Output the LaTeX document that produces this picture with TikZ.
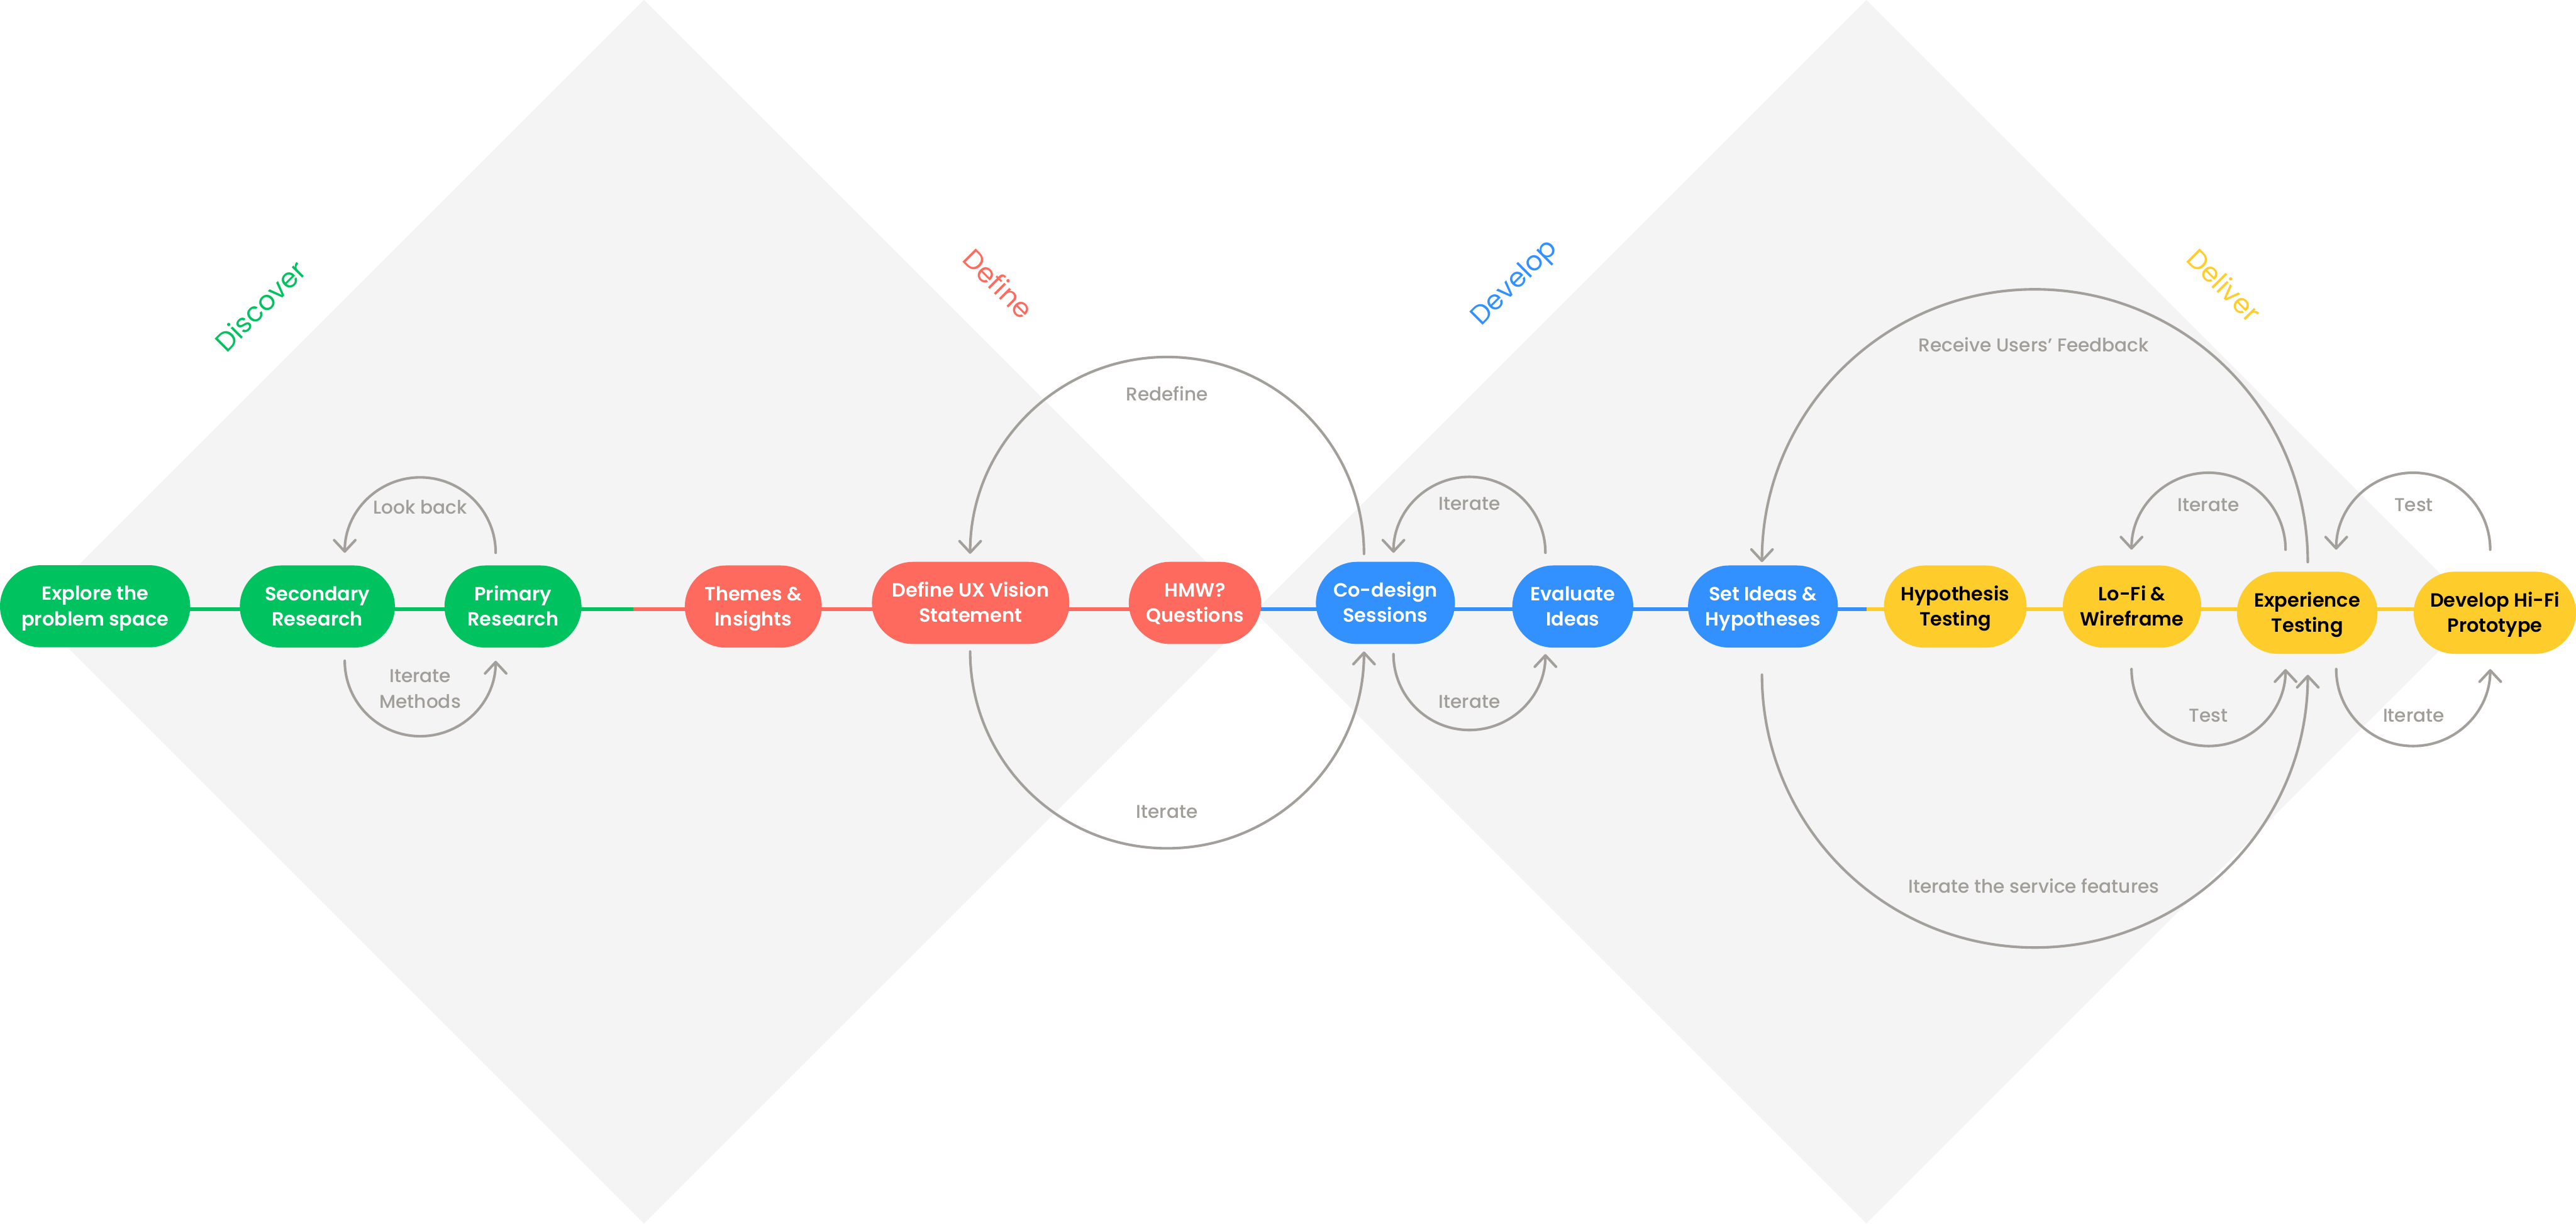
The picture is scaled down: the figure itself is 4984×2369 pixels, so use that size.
\documentclass[tikz,border=0pt]{standalone}
\usepackage{fontspec}
\usetikzlibrary{arrows.meta}
\setmainfont{Poppins}
\IfFontExistsTF{Poppins SemiBold}{\newfontfamily\nodeff{Poppins SemiBold}}{\newfontfamily\nodeff{Poppins}}
\IfFontExistsTF{Poppins Medium}{\newfontfamily\labff{Poppins Medium}}{\newfontfamily\labff{Poppins}}
\definecolor{cgreen}{HTML}{00C25F}
\definecolor{cred}{HTML}{FF6A5E}
\definecolor{cblue}{HTML}{3390FF}
\definecolor{cyellow}{HTML}{FFCD2B}
\definecolor{carrow}{HTML}{A39F9A}
\definecolor{clab}{HTML}{A19E99}
\definecolor{cdiam}{HTML}{F4F4F4}
\newcommand\twoline[2]{\rule{0pt}{0.7em}\smash{#1}\\\smash{#2}}
\pgfdeclarelayer{back}
\pgfdeclarelayer{conn}
\pgfsetlayers{back,conn,main}
\tikzset{
  stagebox/.style={rounded corners=79.5pt, minimum height=159pt, inner sep=0pt,
    align=center, font=\nodeff\fontsize{37}{49}\selectfont},
  gstage/.style={stagebox, fill=cgreen, text=white},
  rstage/.style={stagebox, fill=cred, text=white},
  bstage/.style={stagebox, fill=cblue, text=white},
  ystage/.style={stagebox, fill=cyellow, text=black},
  loopline/.style={draw=carrow, line width=5pt, line cap=round,
    -{Straight Barb[length=22pt,width=41pt,round]}},
  lab/.style={text=clab, font=\labff\fontsize{36}{50}\selectfont, inner sep=0pt},
  phase/.style={font=\fontsize{52}{60}\selectfont, inner sep=0pt},
  gline/.style={draw=cgreen, line width=7.5pt},
  rline/.style={draw=cred, line width=7.5pt},
  bline/.style={draw=cblue, line width=7.5pt},
  yline/.style={draw=cyellow, line width=7.5pt},
}
\begin{document}
\begin{tikzpicture}[x=1pt,y=1pt]
\useasboundingbox (0,0) rectangle (4984,2369);
\begin{pgfonlayer}{back}
\fill[white] (0,0) rectangle (4984,2369);
\fill[cdiam] (62,1185) -- (1246,2369) -- (2430,1185) -- (1246,1) -- cycle;
\fill[cdiam] (2427,1185) -- (3611,2369) -- (4795,1185) -- (3611,1) -- cycle;
\end{pgfonlayer}
% phase titles
\node[phase, text=cgreen, rotate=45] (tdiscover) at (503,1777) {Discover};
\node[phase, text=cred, rotate=-45] (tdefine) at (1932,1820) {Define};
\node[phase, text=cblue, rotate=45] (tdevelop) at (2932,1820) {Develop};
\node[phase, text=cyellow, rotate=-45] (tdeliver) at (4304,1817) {Deliver};
% line level and colour splits
\coordinate (ln) at (0,1190);
\coordinate (s1) at (1225,1190);
\coordinate (s2) at (2440,1190);
\coordinate (s3) at (3612,1190);
% nodes
\node[gstage, minimum width=368pt] (explore) at (184,1195.5) {\twoline{Explore the}{problem space}};
\node[gstage, minimum width=300pt] (secondary) at (614,1195) {\twoline{Secondary}{Research}};
\node[gstage, minimum width=265pt] (primary) at (992.5,1195) {\twoline{Primary}{Research}};
\node[rstage, minimum width=265pt] (themes) at (1457.5,1195) {\twoline{Themes \&}{Insights}};
\node[rstage, minimum width=382pt] (vision) at (1878,1202) {\twoline{Define UX Vision}{Statement}};
\node[rstage, minimum width=256pt] (hmw) at (2312,1202) {\twoline{HMW?}{Questions}};
\node[bstage, minimum width=269pt] (codesign) at (2680.5,1202) {\twoline{Co-design}{Sessions}};
\node[bstage, minimum width=234pt] (evaluate) at (3043,1195) {\twoline{Evaluate}{Ideas}};
\node[bstage, minimum width=290pt] (setideas) at (3411,1195) {\twoline{Set Ideas \&}{Hypotheses}};
\node[ystage, minimum width=276pt] (hypo) at (3783,1195) {\twoline{Hypothesis}{Testing}};
\node[ystage, minimum width=268pt] (lofi) at (4125,1195) {\twoline{Lo-Fi \&}{Wireframe}};
\node[ystage, minimum width=272pt] (exper) at (4464,1183) {\twoline{Experience}{Testing}};
\node[ystage, minimum width=314pt] (hifi) at (4827,1183) {\twoline{Develop Hi-Fi}{Prototype}};
% connectors (behind nodes)
\begin{pgfonlayer}{conn}
\draw[gline] (explore.center |- ln) -- (secondary.center |- ln);
\draw[gline] (secondary.center |- ln) -- (primary.center |- ln);
\draw[gline] (primary.center |- ln) -- (s1);
\draw[rline] (s1) -- (themes.center |- ln);
\draw[rline] (themes.center |- ln) -- (vision.center |- ln);
\draw[rline] (vision.center |- ln) -- (hmw.center |- ln);
\draw[rline] (hmw.center |- ln) -- (s2);
\draw[bline] (s2) -- (codesign.center |- ln);
\draw[bline] (codesign.center |- ln) -- (evaluate.center |- ln);
\draw[bline] (evaluate.center |- ln) -- (setideas.center |- ln);
\draw[bline] (setideas.center |- ln) -- (s3);
\draw[yline] (s3) -- (hypo.center |- ln);
\draw[yline] (hypo.center |- ln) -- (lofi.center |- ln);
\draw[yline] (lofi.center |- ln) -- (exper.center |- ln);
\draw[yline] (exper.center |- ln) -- (hifi.center |- ln);
\end{pgfonlayer}
% loops
\coordinate (a1) at (959,1299);
\coordinate (a2) at (667,1090);
\coordinate (a3) at (2639,1297);
\coordinate (a4) at (1877,1108);
\coordinate (a5) at (2990,1299);
\coordinate (a6) at (2696,1103);
\coordinate (a7) at (4465,1281);
\coordinate (a8) at (3409,1063);
\coordinate (a9) at (4422,1305);
\coordinate (a10) at (4124,1074);
\coordinate (a11) at (4818,1305);
\coordinate (a12) at (4520,1074);
\draw[loopline] (a1) arc[start angle=0,end angle=180,radius=146pt];
\draw[loopline] (a2) arc[start angle=180,end angle=360,radius=146pt];
\draw[loopline] (a3) arc[start angle=0,end angle=180,radius=381pt];
\draw[loopline] (a4) arc[start angle=180,end angle=360,radius=381pt];
\draw[loopline] (a5) arc[start angle=0,end angle=180,radius=147pt];
\draw[loopline] (a6) arc[start angle=180,end angle=360,radius=147pt];
\draw[loopline] (a7) arc[start angle=0,end angle=180,radius=528pt];
\draw[loopline] (a8) arc[start angle=180,end angle=360,radius=528pt];
\draw[loopline] (a9) arc[start angle=0,end angle=180,radius=149pt];
\draw[loopline] (a10) arc[start angle=180,end angle=360,radius=149pt];
\draw[loopline] (a11) arc[start angle=0,end angle=180,radius=149pt];
\draw[loopline] (a12) arc[start angle=180,end angle=360,radius=149pt];
% labels
\node[lab, anchor=base] (llook) at (813,1374) {Look back};
\node[lab, align=center] (lmeth) at (813,1035.5) {\twoline{Iterate}{Methods}};
\node[lab, anchor=base] (lredef) at (2258,1593) {Redefine};
\node[lab, anchor=base] (lit1) at (2258,785) {Iterate};
\node[lab, anchor=base] (lit2) at (2843,1382) {Iterate};
\node[lab, anchor=base] (lit3) at (2843,998) {Iterate};
\node[lab, anchor=base] (lrec) at (3935,1688) {Receive Users’ Feedback};
\node[lab, anchor=base] (lserv) at (3935,641) {Iterate the service features};
\node[lab, anchor=base] (lit4) at (4273,1379) {Iterate};
\node[lab, anchor=base] (ltest1) at (4273,971) {Test};
\node[lab, anchor=base] (ltest2) at (4670,1379) {Test};
\node[lab, anchor=base] (lit5) at (4670,971) {Iterate};
\end{tikzpicture}
\end{document}
